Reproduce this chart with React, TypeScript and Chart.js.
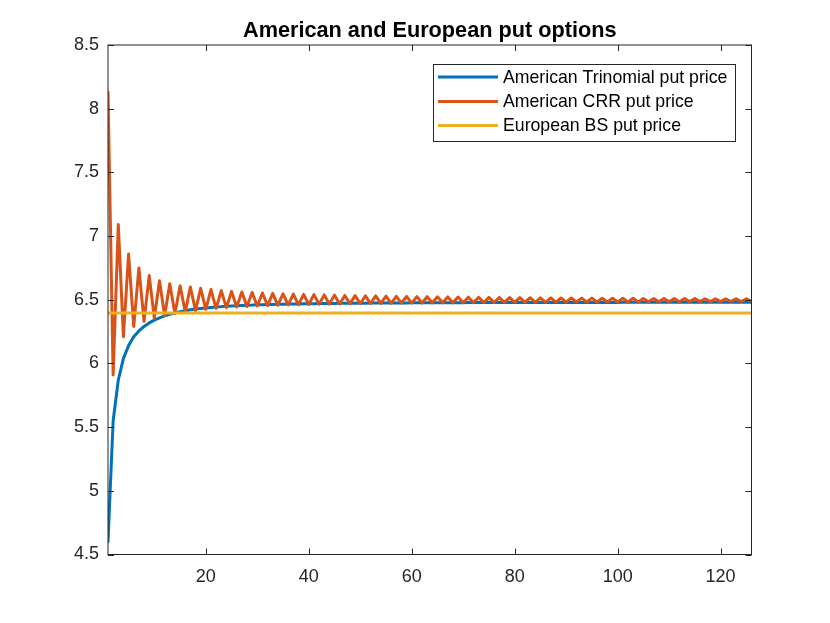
import React, { useEffect, useRef } from 'react';
import { Chart, registerables } from 'chart.js';

Chart.register(...registerables);

// values, one per number of steps (1..126)
const trinomialPut = [
  4.6, 5.55, 5.87, 6.04, 6.14, 6.21, 6.255, 6.29, 6.318, 6.34,
  6.358, 6.373, 6.386, 6.397, 6.406, 6.414, 6.421, 6.427, 6.432, 6.436,
  6.44, 6.443, 6.446, 6.449, 6.451, 6.453, 6.455, 6.457, 6.458, 6.46,
  6.461, 6.462, 6.463, 6.464, 6.465, 6.466, 6.467, 6.467, 6.468, 6.469,
  6.469, 6.47, 6.47, 6.471, 6.471, 6.472, 6.472, 6.472, 6.473, 6.473,
  6.473, 6.474, 6.474, 6.474, 6.474, 6.475, 6.475, 6.475, 6.475, 6.476,
  6.476, 6.476, 6.476, 6.476, 6.477, 6.477, 6.477, 6.477, 6.477, 6.477,
  6.478, 6.478, 6.478, 6.478, 6.478, 6.478, 6.478, 6.478, 6.478, 6.478,
  6.478, 6.478, 6.478, 6.478, 6.479, 6.479, 6.479, 6.479, 6.479, 6.479,
  6.479, 6.479, 6.479, 6.479, 6.479, 6.479, 6.479, 6.479, 6.479, 6.479,
  6.48, 6.48, 6.48, 6.48, 6.48, 6.48, 6.48, 6.48, 6.48, 6.48,
  6.48, 6.48, 6.48, 6.48, 6.48, 6.48, 6.48, 6.48, 6.48, 6.48,
  6.48, 6.48, 6.48, 6.48, 6.48, 6.48,
];

const crrPut = [
  8.13, 5.91, 7.09, 6.21, 6.86, 6.29, 6.75, 6.33, 6.69, 6.355,
  6.65, 6.375, 6.625, 6.39, 6.61, 6.405, 6.6, 6.415, 6.59, 6.425,
  6.58, 6.432, 6.572, 6.438, 6.566, 6.443, 6.561, 6.447, 6.557, 6.451,
  6.553, 6.454, 6.55, 6.457, 6.547, 6.459, 6.544, 6.461, 6.542, 6.463,
  6.54, 6.465, 6.538, 6.466, 6.536, 6.467, 6.534, 6.468, 6.532, 6.469,
  6.531, 6.47, 6.53, 6.471, 6.528, 6.472, 6.527, 6.473, 6.526, 6.474,
  6.525, 6.474, 6.524, 6.475, 6.523, 6.476, 6.522, 6.476, 6.521, 6.477,
  6.52, 6.477, 6.519, 6.478, 6.519, 6.478, 6.518, 6.479, 6.517, 6.479,
  6.517, 6.48, 6.516, 6.48, 6.515, 6.48, 6.515, 6.481, 6.514, 6.481,
  6.514, 6.481, 6.513, 6.482, 6.513, 6.482, 6.512, 6.482, 6.512, 6.483,
  6.511, 6.483, 6.511, 6.483, 6.51, 6.484, 6.51, 6.484, 6.51, 6.484,
  6.509, 6.484, 6.509, 6.485, 6.509, 6.485, 6.508, 6.485, 6.508, 6.485,
  6.508, 6.486, 6.507, 6.486, 6.507, 6.486,
];

const bsPut = [
  6.396, 6.396, 6.396, 6.396, 6.396, 6.396, 6.396, 6.396, 6.396, 6.396,
  6.396, 6.396, 6.396, 6.396, 6.396, 6.396, 6.396, 6.396, 6.396, 6.396,
  6.396, 6.396, 6.396, 6.396, 6.396, 6.396, 6.396, 6.396, 6.396, 6.396,
  6.396, 6.396, 6.396, 6.396, 6.396, 6.396, 6.396, 6.396, 6.396, 6.396,
  6.396, 6.396, 6.396, 6.396, 6.396, 6.396, 6.396, 6.396, 6.396, 6.396,
  6.396, 6.396, 6.396, 6.396, 6.396, 6.396, 6.396, 6.396, 6.396, 6.396,
  6.396, 6.396, 6.396, 6.396, 6.396, 6.396, 6.396, 6.396, 6.396, 6.396,
  6.396, 6.396, 6.396, 6.396, 6.396, 6.396, 6.396, 6.396, 6.396, 6.396,
  6.396, 6.396, 6.396, 6.396, 6.396, 6.396, 6.396, 6.396, 6.396, 6.396,
  6.396, 6.396, 6.396, 6.396, 6.396, 6.396, 6.396, 6.396, 6.396, 6.396,
  6.396, 6.396, 6.396, 6.396, 6.396, 6.396, 6.396, 6.396, 6.396, 6.396,
  6.396, 6.396, 6.396, 6.396, 6.396, 6.396, 6.396, 6.396, 6.396, 6.396,
  6.396, 6.396, 6.396, 6.396, 6.396, 6.396,
];

const seriesNames = ['American Trinomial put price', 'American CRR put price', 'European BS put price'];
const seriesColors = ['#0072BD', '#D95319', '#EDB120'];
const xTicks = [20, 40, 60, 80, 100, 120];
const yTicks = [4.5, 5, 5.5, 6, 6.5, 7, 7.5, 8, 8.5];
const titleText = 'American and European put options';

const FONT = '"Liberation Sans", Arial, Helvetica, sans-serif';
const AXIS_COLOR = '#262626';

const toPoints = (ys: number[]) => ys.map((y, i) => ({ x: i + 1, y }));

// MATLAB-like box, inward ticks, title and legend
const matlabDecor = {
  id: 'matlabDecor',
  afterDatasetsDraw(chart: any) {
    const { ctx, chartArea: a, scales } = chart;
    ctx.save();
    ctx.strokeStyle = AXIS_COLOR;
    ctx.lineWidth = 1;
    ctx.strokeRect(a.left, a.top, a.right - a.left, a.bottom - a.top);
    const tl = 6;
    ctx.beginPath();
    scales.x.ticks.forEach((t: any) => {
      const px = Math.round(scales.x.getPixelForValue(t.value)) + 0.5;
      ctx.moveTo(px, a.bottom);
      ctx.lineTo(px, a.bottom - tl);
      ctx.moveTo(px, a.top);
      ctx.lineTo(px, a.top + tl);
    });
    scales.y.ticks.forEach((t: any) => {
      const py = Math.round(scales.y.getPixelForValue(t.value)) + 0.5;
      ctx.moveTo(a.left, py);
      ctx.lineTo(a.left + tl, py);
      ctx.moveTo(a.right, py);
      ctx.lineTo(a.right - tl, py);
    });
    ctx.stroke();

    // title
    ctx.fillStyle = '#000';
    ctx.font = `bold 21.7px ${FONT}`;
    ctx.textAlign = 'center';
    ctx.textBaseline = 'alphabetic';
    ctx.fillText(titleText, (a.left + a.right) / 2, 37);

    // legend box
    const lx = 433;
    const ly = 64;
    const lw = 302;
    const lh = 77;
    ctx.fillStyle = '#fff';
    ctx.fillRect(lx, ly, lw, lh);
    ctx.strokeStyle = AXIS_COLOR;
    ctx.lineWidth = 1;
    ctx.strokeRect(lx + 0.5, ly + 0.5, lw, lh);
    ctx.font = `17.7px ${FONT}`;
    ctx.textAlign = 'left';
    ctx.textBaseline = 'middle';
    const rows = [77, 101.5, 125.5];
    seriesNames.forEach((name, i) => {
      ctx.strokeStyle = seriesColors[i];
      ctx.lineWidth = 3;
      ctx.beginPath();
      ctx.moveTo(438, rows[i]);
      ctx.lineTo(498, rows[i]);
      ctx.stroke();
      ctx.fillStyle = '#000';
      ctx.fillText(name, 503, rows[i] + 1);
    });
    ctx.restore();
  },
};

const PutChart: React.FC = () => {
  const canvasRef = useRef<HTMLCanvasElement | null>(null);
  const chartRef = useRef<Chart | null>(null);

  useEffect(() => {
    const ctx = canvasRef.current?.getContext('2d');
    if (!ctx) return;
    const series = [trinomialPut, crrPut, bsPut];
    //@ts-ignore
    chartRef.current = new Chart(ctx, {
      type: 'line',
      data: {
        datasets: series.map((ys, i) => ({
          label: seriesNames[i],
          data: toPoints(ys),
          borderColor: seriesColors[i],
          backgroundColor: seriesColors[i],
          borderWidth: 3,
          borderJoinStyle: 'round',
          borderCapStyle: 'round',
          pointRadius: 0,
          tension: 0,
          order: 2 - i,
        })),
      },
      options: {
        animation: false,
        responsive: true,
        maintainAspectRatio: false,
        layout: { padding: { left: 0, right: 78.5, top: 45, bottom: 0 } },
        plugins: {
          legend: { display: false },
          title: { display: false },
          tooltip: { enabled: false },
        },
        scales: {
          x: {
            type: 'linear',
            min: 1,
            max: 126,
            grid: { display: false, drawTicks: false, tickLength: 0 },
            border: { display: false },
            ticks: { color: AXIS_COLOR, font: { family: FONT, size: 18 }, padding: 12, maxRotation: 0 },
            afterBuildTicks: (s: any) => {
              s.ticks = xTicks.map((v) => ({ value: v }));
            },
            afterFit: (s: any) => {
              s.height = 68.5;
            },
          },
          y: {
            type: 'linear',
            min: 4.5,
            max: 8.5,
            grid: { display: false, drawTicks: false, tickLength: 0 },
            border: { display: false },
            ticks: {
              color: AXIS_COLOR,
              font: { family: FONT, size: 18 },
              padding: 9,
              callback: (v: any) => String(v),
            },
            afterBuildTicks: (s: any) => {
              s.ticks = yTicks.map((v) => ({ value: v }));
            },
            afterFit: (s: any) => {
              s.width = 108;
            },
          },
        },
      },
      plugins: [matlabDecor],
    });

    return () => {
      if (chartRef.current) {
        chartRef.current.destroy();
        chartRef.current = null;
      }
    };
  }, []);

  return (
    <div style={{ position: 'absolute', left: 0, top: 0, width: 830, height: 623, background: '#fff' }}>
      <canvas ref={canvasRef} />
    </div>
  );
};

export default function App() {
  return <PutChart />;
}
